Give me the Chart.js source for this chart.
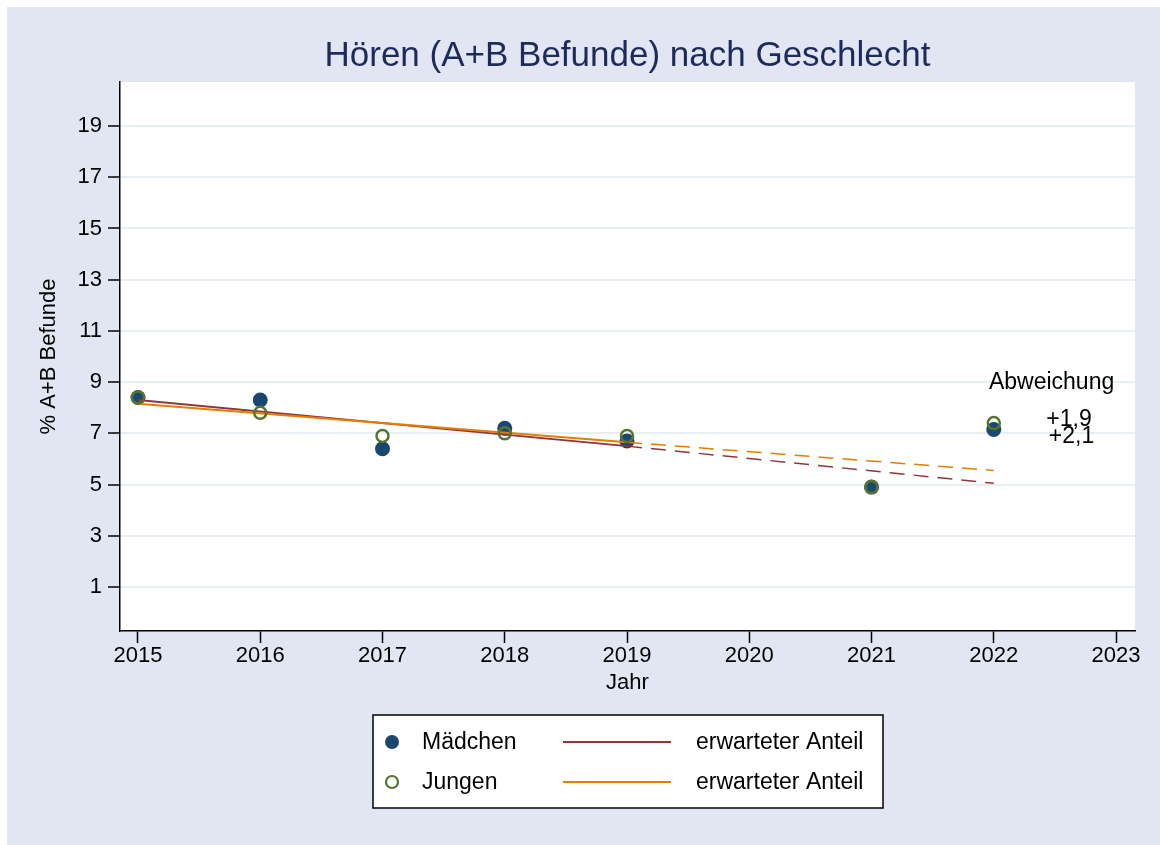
<!DOCTYPE html>
<html>
<head>
<meta charset="utf-8">
<script src="https://cdn.jsdelivr.net/npm/chart.js@4"></script>
<style>
  body { margin: 0; background: #fff; }
  #wrap { position: absolute; left: 7px; top: 7px; width: 1153px; height: 838px; background: #e1e6f2; }
</style>
</head>
<body>
<div id="wrap"><canvas id="hoerenChart" width="1153" height="838"></canvas></div>
<script>
// Werte
const years = [2015, 2016, 2017, 2018, 2019, 2021, 2022]
const maedchen = [8.4, 8.3, 6.4, 7.2, 6.7, 4.9, 7.15]
const jungen = [8.4, 7.8, 6.9, 7.0, 6.9, 4.9, 7.4]

// erwarteter Anteil: Trend 2015-2019, Fortschreibung bis 2022
const trendYears = [2015, 2019]
const projYears = [2019, 2022]
const trendMaedchen = [8.3, 6.5]
const projMaedchen = [6.5, 5.05]
const trendJungen = [8.15, 6.65]
const projJungen = [6.65, 5.55]

const xTicks = [2015, 2016, 2017, 2018, 2019, 2020, 2021, 2022, 2023]
const yTicks = [1, 3, 5, 7, 9, 11, 13, 15, 17, 19]

// Beschriftung rechts: [text, jahr, wert]
const notes = [
    ['Abweichung', 2021.96, 8.73],
    ['+1,9', 2022.43, 7.29],
    ['+2,1', 2022.45, 6.61]
]

const FONT = "'Liberation Sans', Arial, sans-serif"
const NAVY = '#1a476f'
const MAROON = '#90353b'
const GREEN = '#55752f'
const ORANGE = '#e37e00'

const toPoints = (xs, ys) => xs.map((x, i) => ({ x, y: ys[i] }))

const plotBg = {
    id: 'plotBg',
    beforeDraw: chart => {
        const { ctx, chartArea: a } = chart
        ctx.save()
        ctx.fillStyle = '#fff'
        ctx.fillRect(a.left, a.top, a.right - a.left, a.bottom - a.top)
        ctx.restore()
    }
}

const extras = {
    id: 'extras',
    afterDraw: chart => {
        const { ctx, chartArea: a, scales } = chart
        ctx.save()
        ctx.fillStyle = '#000'
        ctx.font = '23px ' + FONT
        ctx.textAlign = 'left'
        ctx.textBaseline = 'alphabetic'
        notes.forEach(([t, x, y]) => ctx.fillText(t, scales.x.getPixelForValue(x), scales.y.getPixelForValue(y)))

        // Legende
        const w = 510, h = 93
        const left = Math.round((a.left + a.right) / 2 - w / 2)
        const top = 708
        ctx.fillStyle = '#fff'
        ctx.fillRect(left, top, w, h)
        ctx.strokeStyle = '#000'
        ctx.lineWidth = 1.5
        ctx.strokeRect(left, top, w, h)

        const rows = [
            { label: 'Mädchen', fill: NAVY, stroke: NAVY, line: MAROON, y: top + 27 },
            { label: 'Jungen', fill: null, stroke: GREEN, line: ORANGE, y: top + 67 }
        ]
        ctx.textBaseline = 'middle'
        rows.forEach(r => {
            ctx.beginPath()
            if (r.fill) {
                ctx.arc(left + 19, r.y, 7, 0, Math.PI * 2)
                ctx.fillStyle = r.fill
                ctx.fill()
            } else {
                ctx.arc(left + 19, r.y, 6, 0, Math.PI * 2)
                ctx.strokeStyle = r.stroke
                ctx.lineWidth = 2.2
                ctx.stroke()
            }
            ctx.beginPath()
            ctx.moveTo(left + 190, r.y)
            ctx.lineTo(left + 298, r.y)
            ctx.strokeStyle = r.line
            ctx.lineWidth = 2
            ctx.stroke()
            ctx.fillStyle = '#000'
            ctx.fillText(r.label, left + 49, r.y + 1)
            ctx.fillText('erwarteter Anteil', left + 323, r.y + 1)
        })
        ctx.restore()
    }
}

const data = {
    datasets: [
        {
            label: 'Jungen',
            data: toPoints(years, jungen),
            pointStyle: 'circle',
            pointRadius: 6,
            pointBorderWidth: 2.5,
            pointBorderColor: GREEN,
            pointBackgroundColor: 'rgba(0,0,0,0)',
            order: 0
        },
        {
            type: 'line',
            label: 'erwarteter Anteil',
            data: toPoints(trendYears, trendJungen),
            borderColor: ORANGE,
            borderWidth: 2,
            pointRadius: 0,
            order: 1
        },
        {
            type: 'line',
            label: 'erwarteter Anteil',
            data: toPoints(trendYears, trendMaedchen),
            borderColor: MAROON,
            borderWidth: 2,
            pointRadius: 0,
            order: 2
        },
        {
            type: 'line',
            data: toPoints(projYears, projJungen),
            borderColor: ORANGE,
            borderWidth: 1.5,
            borderDash: [15, 9],
            pointRadius: 0,
            order: 1
        },
        {
            type: 'line',
            data: toPoints(projYears, projMaedchen),
            borderColor: MAROON,
            borderWidth: 1.5,
            borderDash: [15, 9],
            pointRadius: 0,
            order: 2
        },
        {
            label: 'Mädchen',
            data: toPoints(years, maedchen),
            pointStyle: 'circle',
            pointRadius: 7.5,
            pointBorderWidth: 0,
            pointBackgroundColor: NAVY,
            order: 3
        }
    ]
}

const options = {
    responsive: false,
    animation: false,
    layout: { padding: { left: 0, top: 0, right: 25, bottom: 134 } },
    plugins: {
        legend: { display: false },
        tooltip: { enabled: false },
        title: {
            display: true,
            text: 'Hören (A+B Befunde) nach Geschlecht',
            color: '#1c2b5a',
            font: { family: FONT, size: 35, weight: 'normal' },
            padding: { top: 28, bottom: 5 },
            fullSize: false
        }
    },
    scales: {
        x: {
            type: 'linear',
            min: 2014.853,
            max: 2023.155,
            afterBuildTicks: scale => { scale.ticks = xTicks.map(v => ({ value: v })) },
            afterFit: scale => { scale.height = 80 },
            ticks: {
                color: '#000', font: { family: FONT, size: 22 }, padding: 0,
                autoSkip: false, maxRotation: 0, callback: v => String(v)
            },
            grid: { drawOnChartArea: false, tickLength: 12, tickColor: '#000', tickWidth: 1.5 },
            border: { color: '#000', width: 1.5 },
            title: { display: true, text: 'Jahr', color: '#000', font: { family: FONT, size: 22 }, padding: { top: 0, bottom: 15 } }
        },
        y: {
            min: -0.72,
            max: 20.72,
            afterBuildTicks: scale => { scale.ticks = yTicks.map(v => ({ value: v })) },
            afterFit: scale => { scale.width = 113 },
            ticks: { color: '#000', font: { family: FONT, size: 22 }, padding: 6, callback: v => String(v) },
            grid: { color: '#e8eff2', lineWidth: 2, tickLength: 12, tickColor: '#000', tickWidth: 1.5 },
            border: { color: '#000', width: 1.5 },
            title: { display: true, text: '% A+B Befunde', color: '#000', font: { family: FONT, size: 22 }, padding: { top: 29, bottom: 0 } }
        }
    }
}

new Chart('hoerenChart', { type: 'scatter', data, options, plugins: [plotBg, extras] })
</script>
</body>
</html>
